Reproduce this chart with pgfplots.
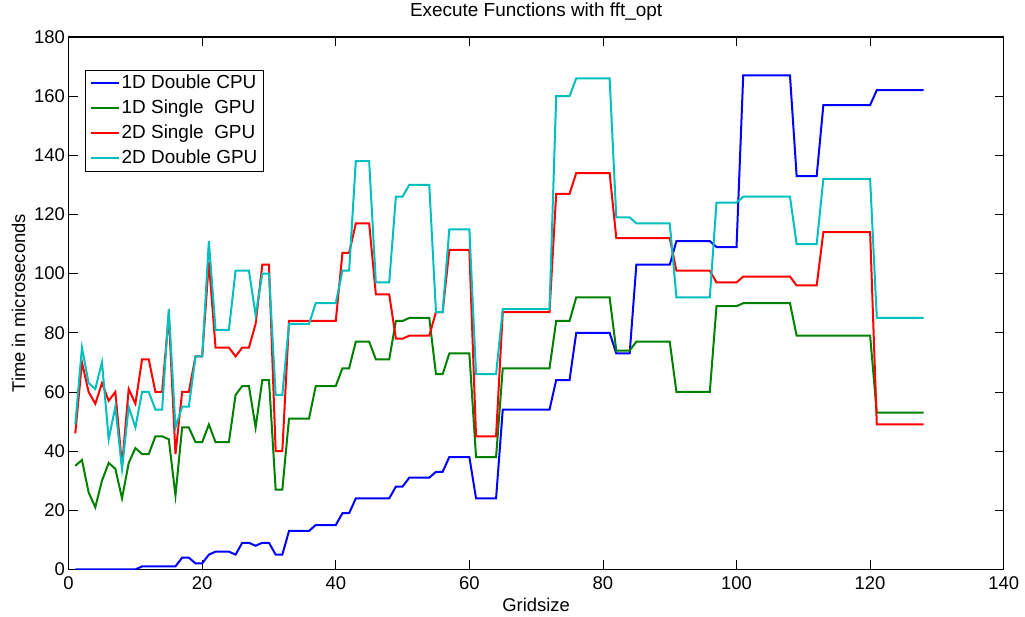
\documentclass[border=0pt]{standalone}
\usepackage{fontspec}
\setmainfont{Liberation Sans}
\usepackage{pgfplots}
\pgfplotsset{compat=1.18}
\usepackage{pgfplotstable}

\definecolor{mblue}{rgb}{0,0,1}
\definecolor{mgreen}{rgb}{0,0.5,0}
\definecolor{mred}{rgb}{1,0,0}
\definecolor{mcyan}{rgb}{0,0.75,0.75}

% gridsize, then the four timings (microseconds)
\pgfplotstableread{
x   cpu1d gpu1ds gpu2ds gpu2dd
1   0   35  46  49
2   0   37  70  75
3   0   26  60  63
4   0   21  56  61
5   0   30  63  70
6   0   36  57  44
7   0   34  60  55
8   0   24  35  34
9   0   36  61  55
10  0   41  56  48
11  1   39  71  60
12  1   39  71  60
13  1   45  60  54
14  1   45  60  54
15  1   44  86  88
16  1   25  39  48
17  4   48  60  55
18  4   48  60  55
19  2   43  72  72
20  2   43  72  72
21  5   49  104 111
22  6   43  75  81
23  6   43  75  81
24  6   43  75  81
25  5   59  72  101
26  9   62  75  101
27  9   62  75  101
28  8   48  83  86
29  9   64  103 100
30  9   64  103 100
31  5   27  40  59
32  5   27  40  59
33  13  51  84  83
34  13  51  84  83
35  13  51  84  83
36  13  51  84  83
37  15  62  84  90
38  15  62  84  90
39  15  62  84  90
40  15  62  84  90
41  19  68  107 101
42  19  68  107 101
43  24  77  117 138
44  24  77  117 138
45  24  77  117 138
46  24  71  93  97
47  24  71  93  97
48  24  71  93  97
49  28  84  78  126
50  28  84  78  126
51  31  85  79  130
52  31  85  79  130
53  31  85  79  130
54  31  85  79  130
55  33  66  87  87
56  33  66  87  87
57  38  73  108 115
58  38  73  108 115
59  38  73  108 115
60  38  73  108 115
61  24  38  45  66
62  24  38  45  66
63  24  38  45  66
64  24  38  45  66
65  54  68  87  88
66  54  68  87  88
67  54  68  87  88
68  54  68  87  88
69  54  68  87  88
70  54  68  87  88
71  54  68  87  88
72  54  68  87  88
73  64  84  127 160
74  64  84  127 160
75  64  84  127 160
76  80  92  134 166
77  80  92  134 166
78  80  92  134 166
79  80  92  134 166
80  80  92  134 166
81  80  92  134 166
82  73  74  112 119
83  73  74  112 119
84  73  74  112 119
85  103 77  112 117
86  103 77  112 117
87  103 77  112 117
88  103 77  112 117
89  103 77  112 117
90  103 77  112 117
91  111 60  101 92
92  111 60  101 92
93  111 60  101 92
94  111 60  101 92
95  111 60  101 92
96  111 60  101 92
97  109 89  97  124
98  109 89  97  124
99  109 89  97  124
100 109 89  97  124
101 167 90  99  126
102 167 90  99  126
103 167 90  99  126
104 167 90  99  126
105 167 90  99  126
106 167 90  99  126
107 167 90  99  126
108 167 90  99  126
109 133 79  96  110
110 133 79  96  110
111 133 79  96  110
112 133 79  96  110
113 157 79  114 132
114 157 79  114 132
115 157 79  114 132
116 157 79  114 132
117 157 79  114 132
118 157 79  114 132
119 157 79  114 132
120 157 79  114 132
121 162 53  49  85
122 162 53  49  85
123 162 53  49  85
124 162 53  49  85
125 162 53  49  85
126 162 53  49  85
127 162 53  49  85
128 162 53  49  85
}\fftdata

\begin{document}
\begin{tikzpicture}
\path[use as bounding box] (-68.6bp,-47.6bp) rectangle (956.4bp,569.4bp);
\begin{axis}[
    at={(0,0)}, anchor=south west,
    scale only axis, width=935.1bp, height=532.4bp,
    xmin=0, xmax=140, ymin=0, ymax=180,
    xtick={0,20,...,140}, ytick={0,20,...,180},
    tick align=inside, tick pos=both,
    major tick length=9bp,
    axis line style={line width=1.1bp},
    every tick/.style={black, line width=0.8bp},
    /pgf/number format/assume math mode=true,
    tick label style={font=\fontsize{18.5}{20}\selectfont},
    xticklabel style={inner sep=0pt, anchor=north, yshift=-7.3bp},
    yticklabel style={inner sep=0pt, anchor=east, xshift=-3.6bp},
    title={Execute Functions with fft\_opt},
    title style={font=\fontsize{19}{21}\selectfont, inner sep=0pt,
        at={(axis description cs:0.5,1.0269)}, anchor=base},
    xlabel={Gridsize},
    xlabel style={font=\fontsize{18.5}{20}\selectfont, inner sep=0pt,
        at={(axis description cs:0.5,-0.0791)}, anchor=base},
    ylabel={Time in microseconds},
    ylabel style={font=\fontsize{18.5}{20}\selectfont, inner sep=0pt,
        at={(axis description cs:-0.0466,0.5)}, anchor=base},
    legend cell align=left,
    legend style={at={(axis description cs:0.01754,0.938)}, anchor=north west,
        draw=black, line width=0.8bp, inner xsep=4.4bp, inner ysep=0.5bp,
        row sep=0pt, font=\fontsize{19}{21}\selectfont,
        nodes={inner xsep=1.3bp, inner ysep=3.6bp, text height=13.8bp, text depth=4bp}},
    legend image code/.code={\draw[#1] (0bp,0bp) -- (28.6bp,0bp);},
    every axis plot/.append style={line width=2bp},
]
\addplot[mblue]  table[x=x, y=cpu1d]  {\fftdata};
\addlegendentry{1D Double CPU}
\addplot[mgreen] table[x=x, y=gpu1ds] {\fftdata};
\addlegendentry{1D Single\ \ GPU}
\addplot[mred]   table[x=x, y=gpu2ds] {\fftdata};
\addlegendentry{2D Single\ \ GPU}
\addplot[mcyan]  table[x=x, y=gpu2dd] {\fftdata};
\addlegendentry{2D Double GPU}
\end{axis}
\end{tikzpicture}
\end{document}
